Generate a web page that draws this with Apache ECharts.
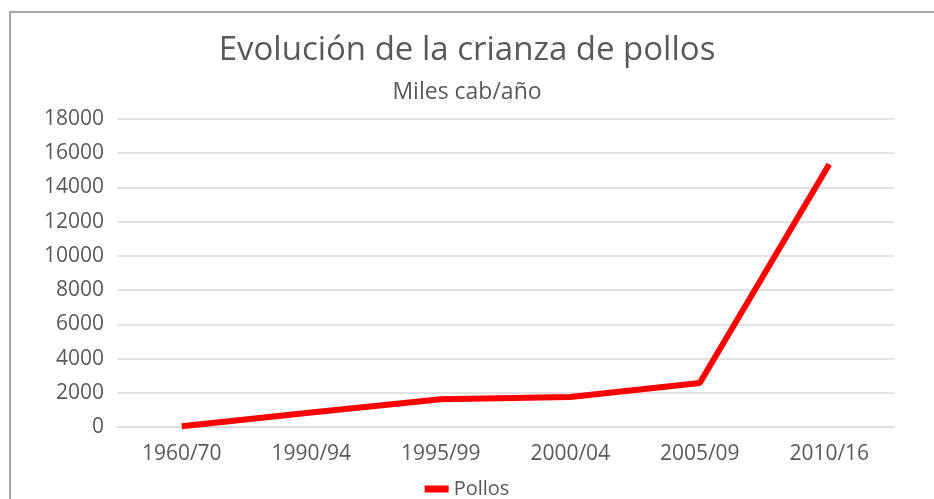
<!DOCTYPE html>
<html><head><meta charset="utf-8">
<script src="https://cdn.jsdelivr.net/npm/echarts@6/dist/echarts.min.js"></script>
<style>html,body{margin:0;padding:0;background:#fff}#c{width:934px;height:499px}</style>
</head><body><div id="c"></div>
<script>
const categories = ['1960/70','1990/94','1995/99','2000/04','2005/09','2010/16'];
const pollos = [50, 850, 1620, 1750, 2570, 15350];
const yTicks = [0,2000,4000,6000,8000,10000,12000,14000,16000,18000];
const titleText = 'Evolución de la crianza de pollos';
const subtitleText = 'Miles cab/año';
const seriesName = 'Pollos';

const chart = echarts.init(document.getElementById('c'));
const font = 'Open Sans';
chart.setOption({
  animation: false,
  backgroundColor: '#fff',
  title: {
    text: titleText, subtext: subtitleText, left: 'center', top: 29, itemGap: 14,
    textStyle: {fontFamily: font, fontSize: 33, fontWeight: 'normal', color: '#595959'},
    subtextStyle: {fontFamily: font, fontSize: 23, color: '#595959'}
  },
  legend: {
    top: 474, left: 'center', itemWidth: 24, itemHeight: 7, icon: 'rect', itemGap: 4,
    textStyle: {fontFamily: font, fontSize: 20, color: '#595959'}
  },
  grid: {left: 117, right: 40, top: 119, bottom: 72},
  xAxis: {
    type: 'category', data: categories, boundaryGap: true,
    axisLine: {show: true, lineStyle: {color: '#d9d9d9', width: 1}},
    axisTick: {show: false},
    axisLabel: {fontFamily: font, fontSize: 21, color: '#595959', margin: 17}
  },
  yAxis: {
    type: 'value', min: yTicks[0], max: yTicks[yTicks.length-1], interval: 2000,
    axisLine: {show: false}, axisTick: {show: false},
    splitLine: {lineStyle: {color: '#d9d9d9', width: 1.5}},
    axisLabel: {fontFamily: font, fontSize: 21, color: '#595959', margin: 13, formatter: v => String(v)}
  },
  graphic: [
    {type: 'line', shape: {x1: 9, y1: 12, x2: 934, y2: 12}, style: {stroke: '#a6a6a6', lineWidth: 2}},
    {type: 'line', shape: {x1: 10, y1: 12, x2: 10, y2: 499}, style: {stroke: '#a6a6a6', lineWidth: 2}}
  ],
  series: [{
    name: seriesName, type: 'line', data: pollos, symbol: 'none',
    lineStyle: {color: '#ff0000', width: 6}, itemStyle: {color: '#ff0000'}
  }]
});
</script></body></html>
